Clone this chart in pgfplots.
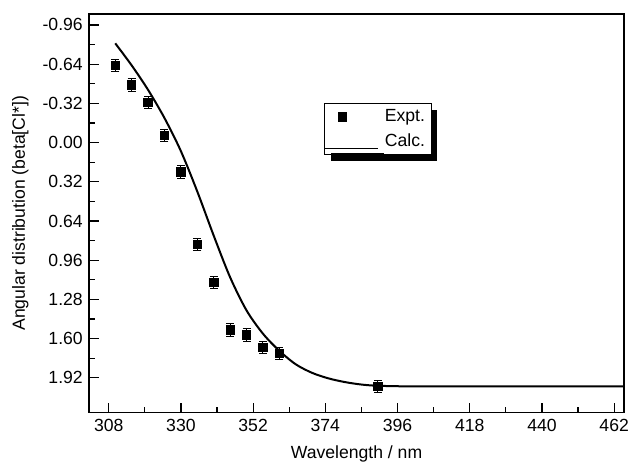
\documentclass[border=0pt]{standalone}
\usepackage{pgfplots}
\pgfplotsset{compat=1.18}
\usepackage{fontspec}
\setmainfont{Liberation Sans}
\usetikzlibrary{shadows}

\begin{document}
\fontsize{8.8}{10.5}\selectfont
\begin{tikzpicture}
\useasboundingbox (-44.5pt,-25.15pt) rectangle (270.5pt,206.35pt);
\begin{axis}[
    at={(0,0)}, anchor=south west,
    scale only axis,
    width=267.5pt, height=199.4pt,
    xmin=302, xmax=465,
    ymin=-1.05, ymax=2.205,
    y dir=reverse,
    xtick={308,330,352,374,396,418,440,462},
    ytick={-0.96,-0.64,-0.32,0,0.32,0.64,0.96,1.28,1.6,1.92},
    minor x tick num=1,
    minor y tick num=1,
    xtick pos=bottom, ytick pos=left,
    tick align=inside,
    major tick length=5pt, minor tick length=3pt,
    every tick/.style={line width=0.6pt, black},
    axis line style={line width=0.7pt},
    yticklabel style={/pgf/number format/fixed, /pgf/number format/fixed zerofill, /pgf/number format/precision=2},
    /pgf/number format/assume math mode=true,
    tick label style={font=\fontsize{8.8}{10.5}\selectfont},
    label style={font=\fontsize{8.8}{10.5}\selectfont},
    xlabel={Wavelength / nm},
    ylabel={Angular distribution (beta[Cl*])},
    xlabel style={yshift=-1pt},
    ylabel style={yshift=1pt},
    legend style={at={(0.44,0.776)}, anchor=north west, draw=black, line width=0.5pt,
        fill=white, font=\fontsize{8.8}{10.5}\selectfont, inner xsep=0pt, inner ysep=1pt,
        row sep=0.5pt,
        nodes={inner xsep=3pt},
        drop shadow={shadow xshift=3pt, shadow yshift=-3pt, fill=black, opacity=1}},
    legend cell align=left,
]
    % experiment
    \addplot[only marks, mark=square*, mark size=2.1pt, black,
        error bars/.cd, y dir=both, y explicit,
        error bar style={line width=0.5pt},
        error mark options={rotate=90, mark size=2pt, line width=0.5pt}]
    coordinates {
        (310, -0.63) +- (0,0.05)
        (315, -0.47) +- (0,0.05)
        (320, -0.33) +- (0,0.05)
        (325, -0.06) +- (0,0.05)
        (330, 0.24) +- (0,0.05)
        (335, 0.83) +- (0,0.05)
        (340, 1.14) +- (0,0.05)
        (345, 1.53) +- (0,0.05)
        (350, 1.57) +- (0,0.05)
        (355, 1.67) +- (0,0.05)
        (360, 1.72) +- (0,0.05)
        (390, 1.99) +- (0,0.05)
    };
    \addlegendentry{Expt.}

    % calculation
    \addplot[black, line width=1pt, smooth, mark=none,
        legend image code/.code={\draw[line width=0.5pt] (0pt,-3.6pt) -- (26.5pt,-3.6pt);}]
    coordinates {
        (310, -0.81) (315, -0.63) (320, -0.43) (325, -0.20)
        (330, 0.07) (335, 0.40) (340, 0.76) (345, 1.10) (350, 1.37)
        (355, 1.56) (360, 1.70) (365, 1.81) (370, 1.88) (375, 1.925)
        (380, 1.955) (385, 1.975) (390, 1.985) (400, 1.99) (420, 1.99)
        (465, 1.99)
    };
    \addlegendentry{Calc.}
\end{axis}
\end{tikzpicture}
\end{document}
